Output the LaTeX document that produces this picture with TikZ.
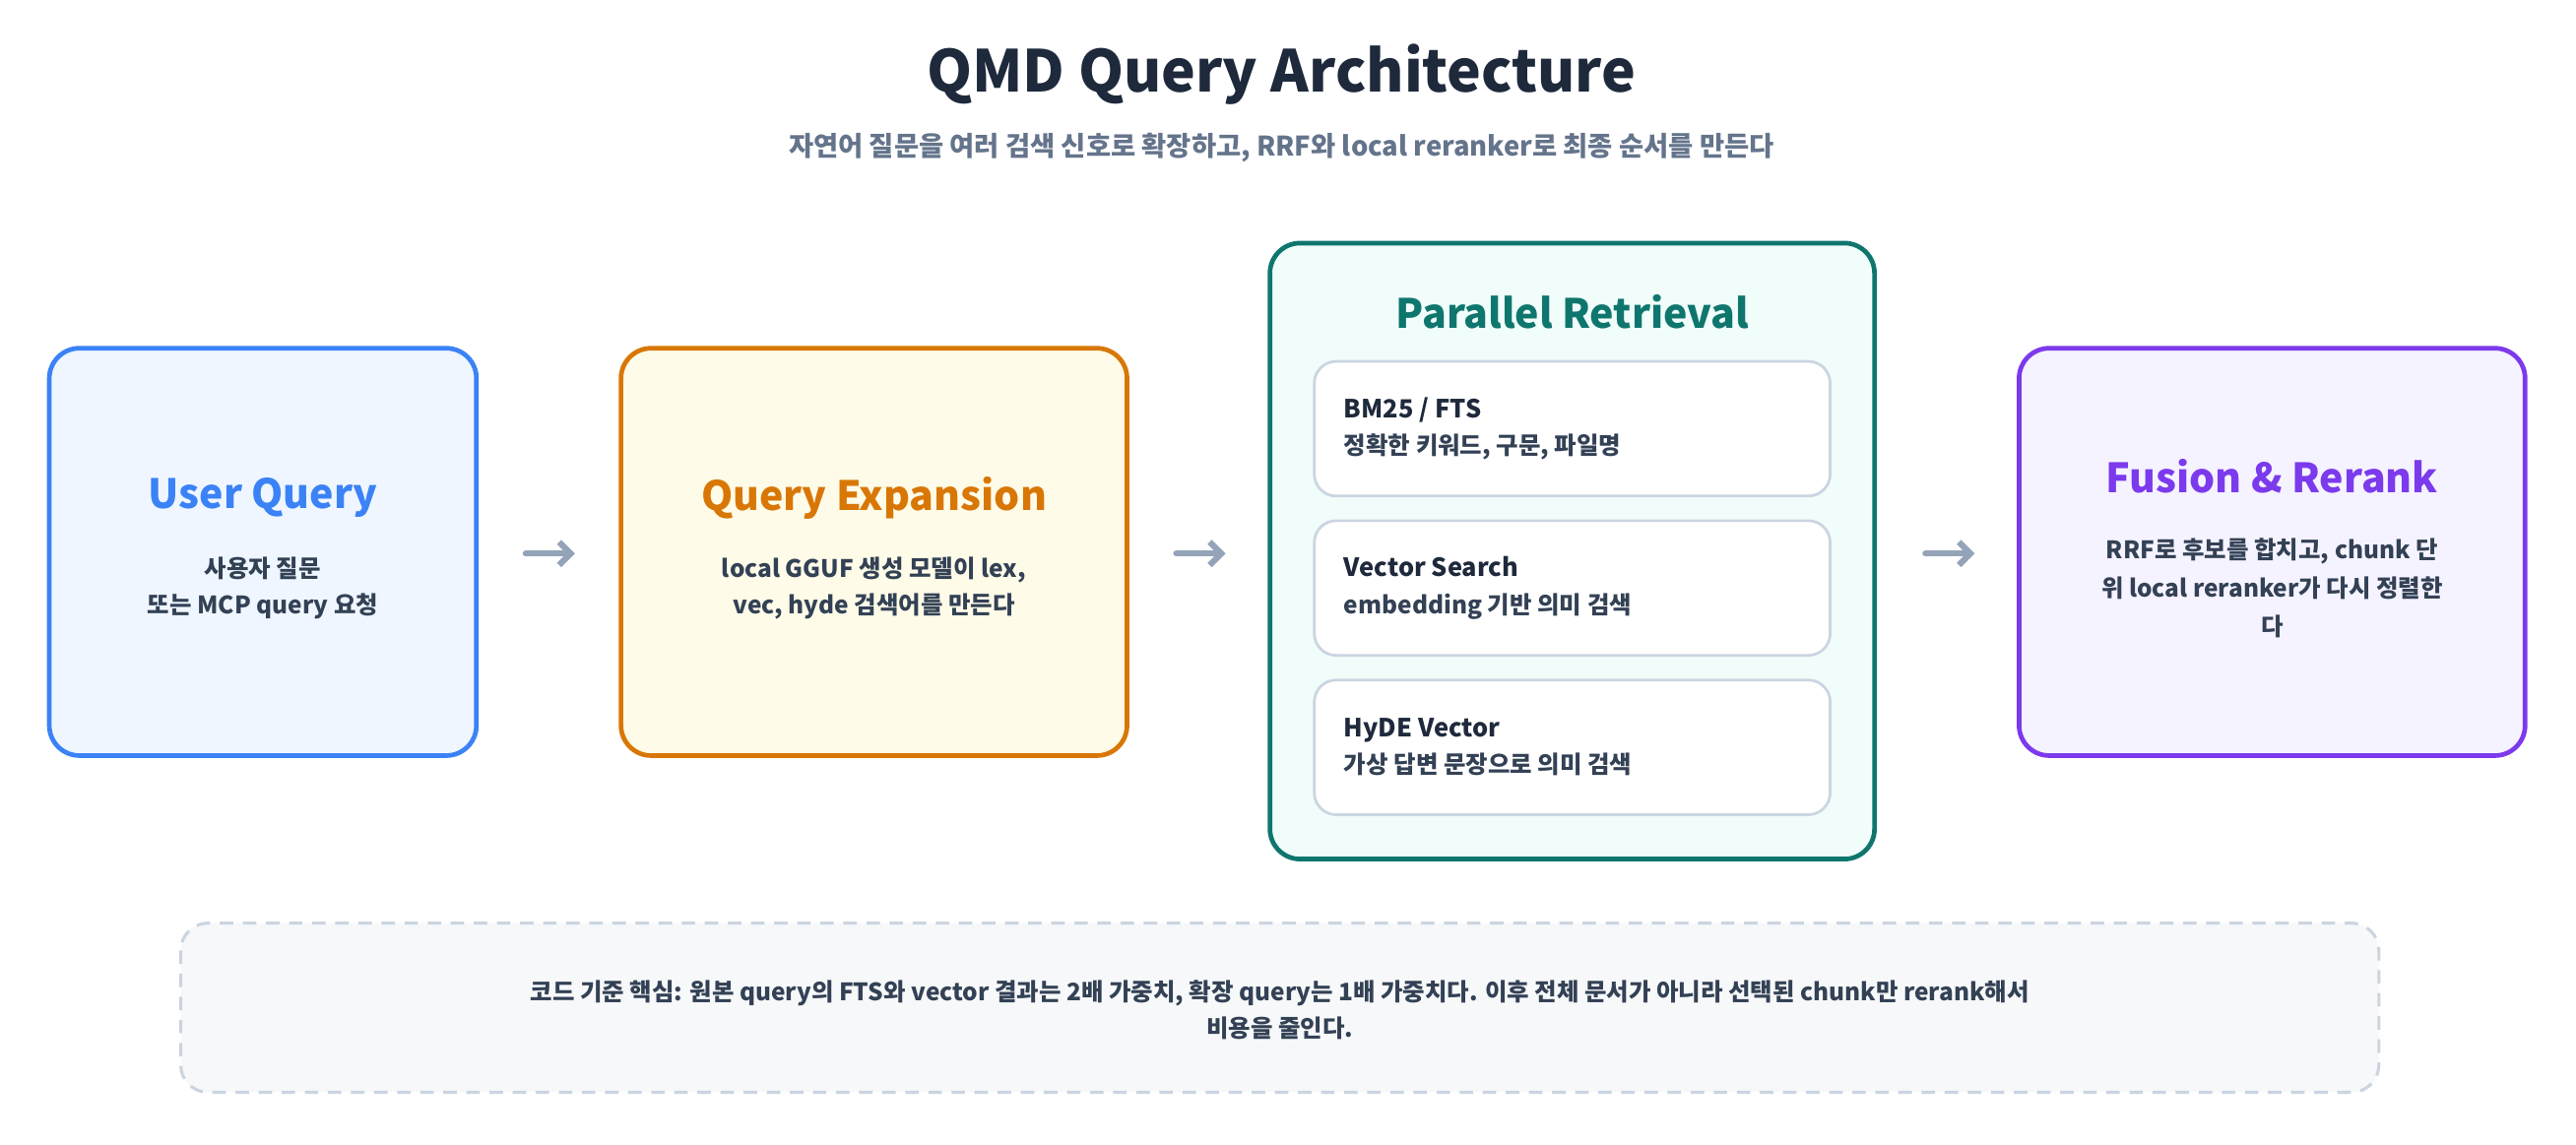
\documentclass[tikz,border=0pt]{standalone}
\usepackage{fontspec}
\setmainfont{Noto Sans CJK KR}
\usetikzlibrary{positioning,arrows.meta}
\definecolor{navy}{HTML}{1E293B}
\definecolor{slate}{HTML}{64748B}
\definecolor{body}{HTML}{334155}
\definecolor{arrowgray}{HTML}{94A3B8}
\definecolor{lineg}{HTML}{CBD5E1}
\definecolor{bluec}{HTML}{3B82F6}
\definecolor{bluef}{HTML}{EFF6FF}
\definecolor{orangec}{HTML}{D97706}
\definecolor{orangef}{HTML}{FEFCE8}
\definecolor{tealc}{HTML}{0F766E}
\definecolor{tealf}{HTML}{F0FDFA}
\definecolor{purplec}{HTML}{7C3AED}
\definecolor{purplef}{HTML}{F5F3FF}
\begin{document}
\begin{tikzpicture}[x=0.03cm,y=-0.03cm]
  \tikzset{
    stage/.style={draw=#1,line width=2.4pt,rounded corners=0.55cm},
    hd/.style={font=\fontsize{21}{25}\selectfont\bfseries,text=#1},
    txt/.style={font=\fontsize{12.5}{19}\selectfont\bfseries,text=body,align=center},
    sub/.style={draw=lineg,line width=1.4pt,fill=white,rounded corners=0.4cm},
    flow/.style={->,>={Straight Barb[length=6pt,width=12pt]},line width=3.2pt,draw=arrowgray,line cap=round}
  }
  \useasboundingbox (0,0) rectangle (1568,697);
  \node[font=\fontsize{30}{36}\selectfont\bfseries,text=navy] (title) at (780,45) {QMD Query Architecture};
  \node[font=\fontsize{14}{18}\selectfont\bfseries,text=slate] (subtitle) at (780,90)
       {자연어 질문을 여러 검색 신호로 확장하고, RRF와 local reranker로 최종 순서를 만든다};

  % user query
  \draw[stage=bluec,fill=bluef] (30,212) rectangle (290,460);
  \node[hd=bluec] (user) at (160,303) {User Query};
  \node[txt] (usertxt) at (160,358) {사용자 질문\\또는 MCP query 요청};

  % expansion
  \draw[stage=orangec,fill=orangef] (378,212) rectangle (686,460);
  \node[hd=orangec] (exp) at (532,303) {Query Expansion};
  \node[txt] (exptxt) at (532,358) {local GGUF 생성 모델이 lex,\\vec, hyde 검색어를 만든다};

  % retrieval
  \draw[stage=tealc,fill=tealf] (773,148) rectangle (1141,523);
  \node[hd=tealc] (ret) at (957,190) {Parallel Retrieval};
  \foreach \y/\a/\b in {220/{BM25 / FTS}/{정확한 키워드, 구문, 파일명},
                        317/{Vector Search}/{embedding 기반 의미 검색},
                        414/{HyDE Vector}/{가상 답변 문장으로 의미 검색}}{
    \draw[sub] (800,\y) rectangle (1114,\y+82);
    \node[txt,align=left,anchor=west,font=\fontsize{13}{19}\selectfont\bfseries,text=navy] at (814,\y+41)
         {\a\\{\fontsize{12.5}{19}\selectfont\color{body}\b}};
  }

  % fusion
  \draw[stage=purplec,fill=purplef] (1229,212) rectangle (1537,460);
  \node[hd=purplec] (fus) at (1383,290) {Fusion \& Rerank};
  \node[txt,font=\fontsize{12.5}{20}\selectfont\bfseries] (fustxt) at (1383,358)
       {RRF로 후보를 합치고, chunk 단\\위 local reranker가 다시 정렬한\\다};

  % arrows
  \coordinate (a1) at (320,337); \coordinate (b1) at (350,337);
  \coordinate (a2) at (716,337); \coordinate (b2) at (746,337);
  \coordinate (a3) at (1172,337); \coordinate (b3) at (1202,337);
  \draw[flow] (a1) -- (b1);
  \draw[flow] (a2) -- (b2);
  \draw[flow] (a3) -- (b3);

  % note
  \draw[draw=lineg,line width=1.6pt,dash pattern=on 7pt off 5pt,fill=slate!5,rounded corners=0.5cm] (110,562) rectangle (1448,665);
  \node[txt] (note) at (779,615)
       {코드 기준 핵심: 원본 query의 FTS와 vector 결과는 2배 가중치, 확장 query는 1배 가중치다. 이후 전체 문서가 아니라 선택된 chunk만 rerank해서\\비용을 줄인다.};
\end{tikzpicture}
\end{document}
